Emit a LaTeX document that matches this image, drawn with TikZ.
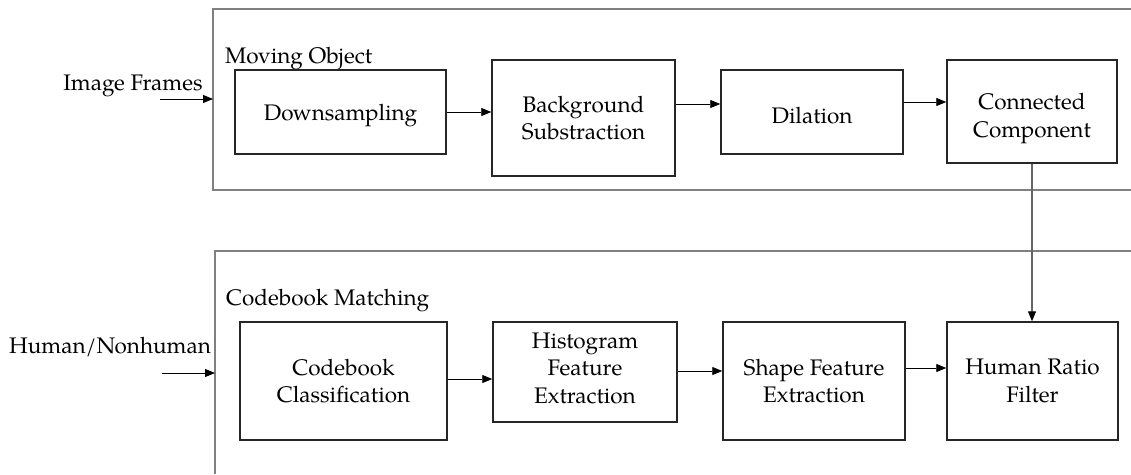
\documentclass[tikz,border=0pt]{standalone}
\usepackage{fontspec}
\setmainfont{texgyrepagella}[Extension=.otf,UprightFont=*-regular,BoldFont=*-bold,ItalicFont=*-italic,BoldItalicFont=*-bolditalic]
\usetikzlibrary{arrows.meta}
\begin{document}
\begin{tikzpicture}[x=1pt,y=-1pt,
  font=\fontsize{22.5}{27.5}\selectfont,
  blk/.style={draw=black!85,line width=1.5pt,align=center,inner sep=0pt},
  txt/.style={align=center,inner sep=0pt},
  frm/.style={draw=black!50,line width=1.2pt},
  arr/.style={draw=black,line width=0.9pt,-{Triangle[length=10pt,width=8pt]}},
  varr/.style={draw=black!60,line width=1.2pt,-{Triangle[length=10pt,width=8pt,color=black]}},
  lbl/.style={inner sep=0pt,anchor=base west}]
\useasboundingbox (0,0) rectangle (1131,474);
% frames
\draw[frm] (1131,9) -- (213,9) -- (213,190) -- (1131,190);
\draw[frm] (1131,251) -- (215,251) -- (215,474);
% labels
\node[lbl] (mo) at (225,63) {Moving Object};
\node[lbl] (cm) at (226,305) {Codebook Matching};
\node[lbl,anchor=base] (if) at (133,90) {Image Frames};
\node[lbl,anchor=base] (hn) at (110,353) {Human/Nonhuman};
\coordinate (ifs) at (160,99);
\coordinate (ife) at (213,99);
\coordinate (hns) at (162,373);
\coordinate (hne) at (215,373);
% top row
\node[blk,minimum width=211pt,minimum height=84pt,label={[txt,yshift=-4pt]center:Downsampling}] (ds) at (340.5,112) {};
\node[blk,minimum width=183pt,minimum height=116pt] (bg) at (583.5,118) {Background\\Substraction};
\node[blk,minimum width=182pt,minimum height=84pt,label={[txt,yshift=-4pt]center:Dilation}] (dil) at (812,112) {};
\node[blk,minimum width=170pt,minimum height=103pt,label={[txt,yshift=-7pt]center:{Connected\\Component}}] (cc) at (1032,111.5) {};
% bottom row
\node[blk,minimum width=207pt,minimum height=118pt] (cb) at (343.5,381) {Codebook\\Classification};
\node[blk,minimum width=184pt,minimum height=100pt,label={[txt,yshift=4pt]center:{Histogram\\Feature\\Extraction}}] (hf) at (585,372) {};
\node[blk,minimum width=182pt,minimum height=118pt] (sf) at (814,381) {Shape Feature\\Extraction};
\node[blk,minimum width=171pt,minimum height=118pt] (hr) at (1032.5,381) {Human Ratio\\Filter};
% connectors
\draw[arr] (ifs) -- (ife);
\draw[arr] (hns) -- (hne);
\draw[arr] (ds.east) -- (ds.east -| bg.west);
\draw[arr] ([yshift=14pt]bg.east) -- ([yshift=14pt]bg.east -| dil.west);
\draw[arr] ([yshift=10pt]dil.east) -- ([yshift=10pt]dil.east -| cc.west);
\draw[varr] (cc.south) -- (cc.south |- hr.north);
\draw[arr] ([yshift=2pt]cb.east) -- ([yshift=2pt]cb.east -| hf.west);
\draw[arr] ([yshift=1pt]hf.east) -- ([yshift=1pt]hf.east -| sf.west);
\draw[arr] ([yshift=13pt]sf.east) -- ([yshift=13pt]sf.east -| hr.west);
\end{tikzpicture}
\end{document}
